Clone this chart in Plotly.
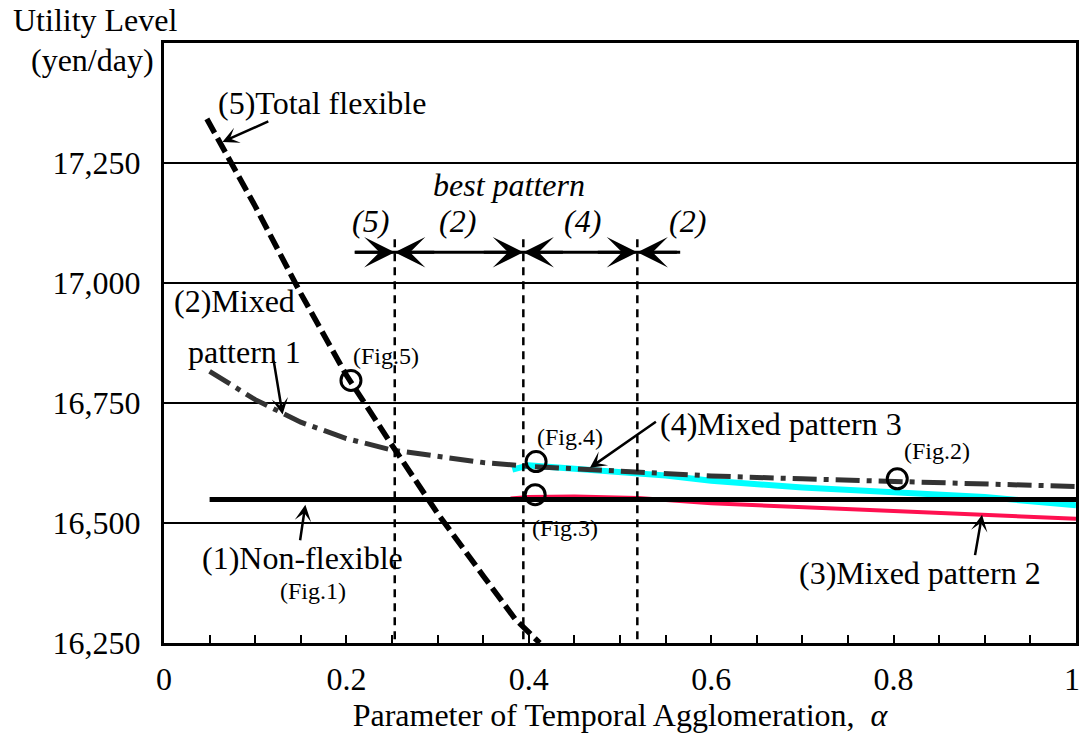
import plotly.graph_objects as go

# ---- data ----
alpha_total = [0.047, 0.10, 0.15, 0.20, 0.25, 0.30, 0.35, 0.385, 0.412]
util_total = [17342, 17160, 16978, 16808, 16662, 16520, 16390, 16300, 16250]

alpha_mixed1 = [0.05, 0.10, 0.15, 0.20, 0.25, 0.30, 0.35, 0.40, 0.50, 0.60, 0.70, 0.80, 0.90, 1.00]
util_mixed1 = [16816, 16757, 16710, 16676, 16652, 16638, 16626, 16618, 16607, 16598, 16592, 16586, 16581, 16576]

alpha_nonflex = [0.05, 1.00]
util_nonflex = [16549, 16549]

alpha_mixed3 = [0.382, 0.40, 0.45, 0.50, 0.52, 0.55, 0.60, 0.65, 0.70, 0.80, 0.90, 1.00]
util_mixed3 = [16611, 16620, 16613, 16607, 16605, 16599, 16588, 16580, 16574, 16564, 16554, 16537]

alpha_mixed2 = [0.38, 0.40, 0.45, 0.50, 0.52, 0.60, 0.70, 0.80, 0.90, 1.00]
util_mixed2 = [16551, 16554, 16555, 16554, 16552, 16541, 16533, 16526, 16519, 16509]

fig_alpha = [0.205, 0.408, 0.407, 0.804]
fig_util = [16797, 16628, 16559, 16592]

best_bounds = [0.253, 0.394, 0.519]
best_line_alpha = [0.209, 0.566]
best_line_util = 17064
best_labels = ["(5)", "(2)", "(4)", "(2)"]
best_label_alpha = [0.226, 0.322, 0.459, 0.574]

x_tickvals = [0, 0.2, 0.4, 0.6, 0.8, 1.0]
x_ticktext = ["0", "0.2", "0.4", "0.6", "0.8", "1\u00a0"]
y_tickvals = [16250, 16500, 16750, 17000, 17250]
y_ticktext = ["16,250", "16,500", "16,750", "17,000", "17,250"]

FONT = "Liberation Serif"
BIG = 32
SMALL = 24

fig = go.Figure()

# coloured curves first (below black ones)
fig.add_trace(go.Scatter(x=alpha_mixed2, y=util_mixed2, mode="lines",
                         line=dict(color="#ff1050", width=4)))
fig.add_trace(go.Scatter(x=alpha_mixed3, y=util_mixed3, mode="lines",
                         line=dict(color="#00ffff", width=6)))
fig.add_trace(go.Scatter(x=alpha_nonflex, y=util_nonflex, mode="lines",
                         line=dict(color="black", width=5)))
fig.add_trace(go.Scatter(x=alpha_mixed1, y=util_mixed1, mode="lines",
                         line=dict(color="#333333", width=5, dash="24px,7px,5px,7px")))

# vertical dashed boundaries
for b in best_bounds:
    fig.add_trace(go.Scatter(x=[b, b], y=[17091, 16250], mode="lines",
                             line=dict(color="black", width=2.5, dash="8px,6px")))

fig.add_trace(go.Scatter(x=alpha_total, y=util_total, mode="lines",
                         line=dict(color="black", width=5.5, dash="16px,6px")))

# best pattern horizontal line
fig.add_trace(go.Scatter(x=best_line_alpha, y=[best_line_util, best_line_util], mode="lines",
                         line=dict(color="black", width=3)))

# circles
fig.add_trace(go.Scatter(x=fig_alpha, y=fig_util, mode="markers",
                         marker=dict(symbol="circle-open", size=20, color="black",
                                     line=dict(width=3, color="black"))))

ann = []

def arrow(x0, y0, x1, y1, width=2.5, size=1.1):
    ann.append(dict(x=x1, y=y1, ax=x0, ay=y0, xref="x", yref="y", axref="x", ayref="y",
                    text="", showarrow=True, arrowhead=3, arrowwidth=width,
                    arrowsize=size, arrowcolor="black"))

def label(x, y, t, size=BIG, italic=False, xanchor="center"):
    if italic:
        t = "<i>" + t + "</i>"
    ann.append(dict(x=x, y=y, xref="x", yref="y", text=t, showarrow=False,
                    xanchor=xanchor, yanchor="middle",
                    font=dict(family=FONT, size=size, color="black")))

# best pattern arrows
for b in best_bounds:
    arrow(b - 0.045, best_line_util, b, best_line_util, width=3, size=1.7)
    arrow(b + 0.045, best_line_util, b, best_line_util, width=3, size=1.7)

label(0.378, 17204, "best pattern", italic=True)
for t, a in zip(best_labels, best_label_alpha):
    label(a, 17129, t, italic=True)

label(0.173, 17375, "(5)Total flexible")
arrow(0.116, 17338, 0.064, 17294)

label(0.077, 16962, "(2)Mixed")
label(0.088, 16857, "pattern 1")
arrow(0.120, 16841, 0.130, 16726)

label(0.243, 16847, "(Fig.5)", size=SMALL)
label(0.445, 16680, "(Fig.4)", size=SMALL)
label(0.44, 16490, "(Fig.3)", size=SMALL)
label(0.848, 16649, "(Fig.2)", size=SMALL)

label(0.542, 16707, "(4)Mixed pattern 3", xanchor="left")
arrow(0.541, 16713, 0.467, 16615)

label(0.152, 16427, "(1)Non-flexible")
label(0.163, 16359, "(Fig.1)", size=SMALL)
arrow(0.149, 16461, 0.155, 16538)

label(0.829, 16396, "(3)Mixed pattern 2")
arrow(0.889, 16430, 0.897, 16517)

# y axis title (two lines above axis)
ann.append(dict(x=-0.0746, y=1.038, xref="paper", yref="paper", text="Utility Level",
                showarrow=False, xanchor="center", yanchor="middle",
                font=dict(family=FONT, size=BIG, color="black")))
ann.append(dict(x=-0.0779, y=0.9717, xref="paper", yref="paper", text="(yen/day)",
                showarrow=False, xanchor="center", yanchor="middle",
                font=dict(family=FONT, size=BIG, color="black")))

fig.update_layout(
    width=1082, height=745,
    margin=dict(l=164, r=6, t=43, b=102),
    paper_bgcolor="white", plot_bgcolor="white",
    showlegend=False, hovermode=False,
    annotations=ann,
    font=dict(family=FONT, size=BIG, color="black"),
    xaxis=dict(range=[0, 1], tickvals=x_tickvals, ticktext=x_ticktext,
               automargin=False, ticklabeloverflow="allow",
               showgrid=False, zeroline=False, showline=True, mirror=True,
               linecolor="black", linewidth=3,
               ticks="inside", ticklen=8, tickwidth=2, tickcolor="black",
               minor=dict(dtick=0.05, ticks="inside", ticklen=8, tickwidth=2,
                          tickcolor="black", showgrid=False),
               ticklabelstandoff=6,
               title=dict(text="Parameter of Temporal Agglomeration,  <i>α</i>",
                          font=dict(family=FONT, size=BIG), standoff=2),
               tickfont=dict(family=FONT, size=BIG)),
    yaxis=dict(range=[16250, 17500], tickvals=y_tickvals, ticktext=y_ticktext,
               automargin=False,
               showgrid=True, gridcolor="black", gridwidth=2, zeroline=False,
               showline=True, mirror=True, linecolor="black", linewidth=3,
               ticks="", ticklabelstandoff=14,
               tickfont=dict(family=FONT, size=BIG)),
)

# remove the default page margin so the figure fills the window exactly
fig.write_html("out.html",
               config={"displayModeBar": False, "staticPlot": True},
               post_script="document.body.style.margin='0px';document.body.style.overflow='hidden';")
